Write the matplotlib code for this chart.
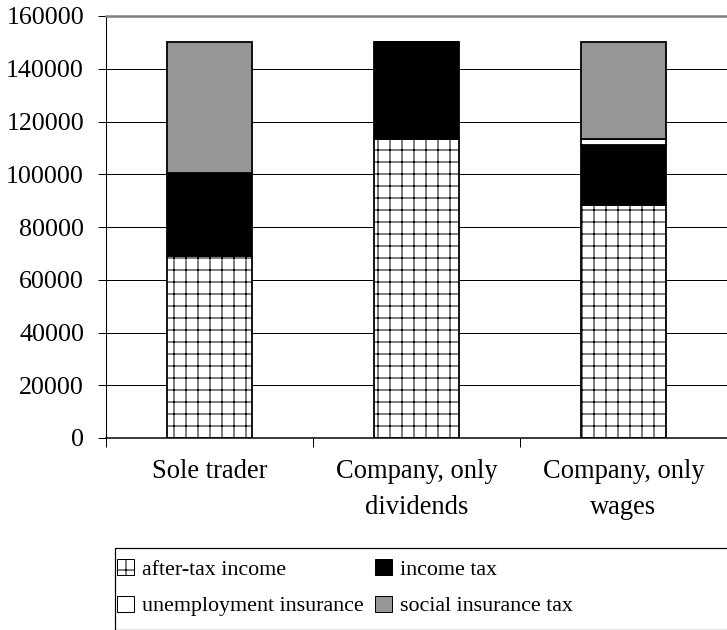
import numpy as np
import matplotlib
matplotlib.use("Agg")
import matplotlib.pyplot as plt
from matplotlib.patches import Patch, Rectangle

# Income breakdown for the three business forms
categories = ["Sole trader", "Company, only\ndividends", "Company, only\nwages"]
after_tax_income = [69000, 113500, 88500]
income_tax = [31500, 36500, 22600]
unemployment_insurance = [0, 0, 2100]
social_insurance_tax = [49500, 0, 36800]

series = [
    ("after-tax income", after_tax_income, "white", "+"),
    ("income tax", income_tax, "black", None),
    ("unemployment insurance", unemployment_insurance, "white", None),
    ("social insurance tax", social_insurance_tax, "#969696", None),
]

plt.rcParams["font.family"] = ["Liberation Serif", "DejaVu Serif"]
plt.rcParams["hatch.linewidth"] = 1.0

fig = plt.figure(figsize=(727 / 72, 630 / 72), dpi=72)
ax = fig.add_axes([106 / 727, 1 - 438 / 630, 1 - 106 / 727, (438 - 16) / 630])

x = np.arange(len(categories)) + 0.5
bottom = np.zeros(len(categories))
for name, vals, color, hatch in series:
    vals = np.array(vals, dtype=float)
    ax.bar(x, vals, width=0.41, bottom=bottom, color=color, edgecolor="black",
           linewidth=1.8, hatch=hatch, zorder=3)
    bottom += vals

ax.set_xlim(0, 3)
ax.set_ylim(0, 160000)
ax.set_yticks(np.arange(0, 160001, 20000))
ax.yaxis.grid(True, color="black", linewidth=1, zorder=0)
ax.tick_params(axis="y", labelsize=26, length=8, width=1, pad=14, direction="out")

ax.set_xticks([0, 1, 2, 3])
ax.set_xticklabels([])
ax.tick_params(axis="x", which="major", length=9, width=1, direction="out")
ax.set_xticks(x, minor=True)
ax.set_xticklabels(categories, minor=True, fontsize=26.5, linespacing=1.6)
ax.tick_params(axis="x", which="minor", length=0, pad=21)

for side in ["top", "right"]:
    ax.spines[side].set_visible(False)
ax.spines["left"].set_linewidth(1)
ax.spines["bottom"].set_linewidth(1.5)
ax.axhline(160000, color="#808080", linewidth=2.5, zorder=4, clip_on=False)

# legend with its own frame running off the figure edge
handles = [
    Patch(facecolor="white", edgecolor="black", hatch="+", label="after-tax income"),
    Patch(facecolor="white", edgecolor="black", label="unemployment insurance"),
    Patch(facecolor="black", edgecolor="black", label="income tax"),
    Patch(facecolor="#969696", edgecolor="black", label="social insurance tax"),
]
fig.legend(handles=handles, ncol=2, loc="upper left",
           bbox_to_anchor=(117 / 727, 1 - 559 / 630), frameon=False,
           fontsize=22, handlelength=0.75, handleheight=0.75,
           handletextpad=0.4, columnspacing=0.5, labelspacing=0.72,
           borderpad=0, borderaxespad=0)
fig.patches.append(Rectangle((115 / 727, 0), 1, 1 - 548 / 630, transform=fig.transFigure,
                             fill=False, edgecolor="black", linewidth=1.2))

fig.savefig("out.png", dpi=72)
